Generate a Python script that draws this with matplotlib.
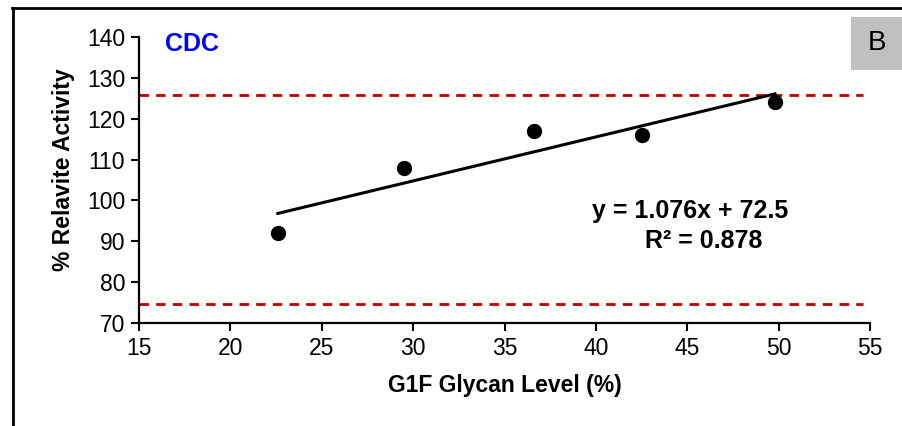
import matplotlib.pyplot as plt
from matplotlib.lines import Line2D
from matplotlib.patches import Rectangle

# data
g1f_level = [22.6, 29.5, 36.6, 42.5, 49.8]
rel_activity = [92, 108, 117, 116, 124]
slope = 1.076
intercept = 72.5
r_squared = 0.878
upper_limit = 125.8
lower_limit = 74.6
x_ticks = [15, 20, 25, 30, 35, 40, 45, 50, 55]
y_ticks = [70, 80, 90, 100, 110, 120, 130, 140]

plt.rcParams['font.family'] = ['Liberation Sans', 'DejaVu Sans']

W, H = 903, 426
fig = plt.figure(figsize=(W / 100, H / 100), dpi=100)
ax = fig.add_axes([0.1539, 0.2418, 0.8096, 0.6713])

# limits
for lim in [upper_limit, lower_limit]:
    ax.hlines(lim, 15, 54.6, colors='#c00000', linestyles=(0, (3.4, 2.6)), linewidth=2, zorder=1)

# trend line
x_fit = [min(g1f_level), max(g1f_level)]
y_fit = [slope * x + intercept for x in x_fit]
ax.plot(x_fit, y_fit, color='black', linewidth=2.2, zorder=2)

ax.scatter(g1f_level, rel_activity, s=100, color='black', zorder=3)

ax.set_xlim(15, 55)
ax.set_ylim(70, 140)
ax.set_xticks(x_ticks)
ax.set_yticks(y_ticks)
ax.tick_params(direction='out', length=6, width=1.5, labelsize=16.5, pad=4)
for s in ['top', 'right']:
    ax.spines[s].set_visible(False)
for s in ['left', 'bottom']:
    ax.spines[s].set_linewidth(1.6)

ax.set_xlabel('G1F Glycan Level (%)', fontsize=16.5, fontweight='bold')
ax.set_ylabel('% Relavite Activity', fontsize=16.5, fontweight='bold')
ax.xaxis.set_label_coords(0.5007, -0.178)
ax.yaxis.set_label_coords(-0.087, 0.535)

ax.text(0.0356, 0.976, 'CDC', transform=ax.transAxes, color='#0000ff',
        fontsize=18, fontweight='bold', ha='left', va='center')

ax.text(690, H - 211, f'y = {slope}x + {intercept}', transform=None, fontsize=18,
        fontweight='bold', ha='center', va='center')
ax.text(704, H - 241, f'R² = {r_squared}', transform=None, fontsize=18,
        fontweight='bold', ha='center', va='center')

# panel label box
fig.patches.append(Rectangle((851 / W, 1 - 70 / H), 52 / W, 53 / H,
                             transform=fig.transFigure, facecolor='#c0c0c0',
                             edgecolor='none', zorder=5))
fig.text(877 / W, 1 - 43 / H, 'B', fontsize=20, ha='center', va='center', zorder=6)

# outer frame (left and top edges)
fig.add_artist(Line2D([13 / W, 13 / W], [0, 1 - 7.5 / H], color='black', linewidth=2,
                      transform=fig.transFigure))
fig.add_artist(Line2D([12 / W, 1], [1 - 7.5 / H, 1 - 7.5 / H], color='black', linewidth=2,
                      transform=fig.transFigure))

fig.savefig('out.png', dpi=100)
